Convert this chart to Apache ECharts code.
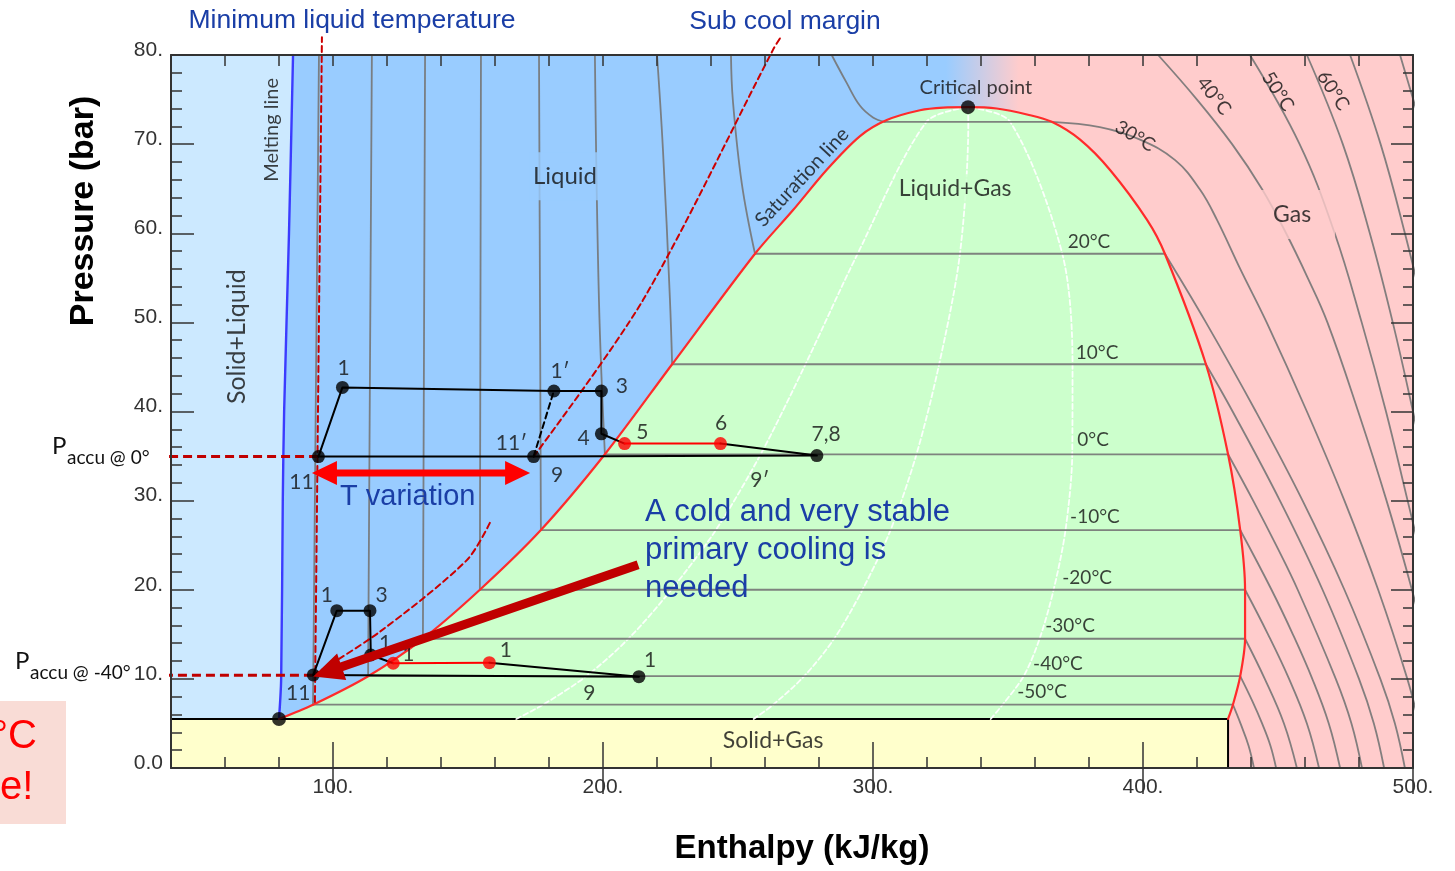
<!DOCTYPE html>
<html>
<head>
<meta charset="utf-8">
<script src="https://cdn.jsdelivr.net/npm/echarts@6/dist/echarts.min.js"></script>
<style>
  html, body { margin: 0; padding: 0; background: #fff; }
  #chart { width: 1455px; height: 871px; }
</style>
</head>
<body>
<div id="chart"></div>
<script>
// CO2 pressure–enthalpy diagram with two accumulator operating cycles.
// Enthalpy h in kJ/kg, pressure p in bar.

const xTickLabels = [100, 200, 300, 400, 500];
const yTickLabels = [0, 10, 20, 30, 40, 50, 60, 70, 80];

const triplePoint = [80, 5.5];
const criticalPoint = [335.2, 74.15];

// Solid/liquid boundary
const meltingLine = [[80, 5.5], [80.8, 10], [81.4, 30], [81.9, 40], [83.7, 60], [85.2, 80]];

// Saturation dome
const satLiquid = [[80, 5.5], [92.6, 7.1], [113, 10.3], [133.3, 14.5], [154.4, 20], [177, 26.7],
  [200.7, 35.2], [225.6, 45.3], [256.3, 57.7], [270.4, 62.6], [282.8, 67.1], [295.2, 70.9],
  [305.1, 72.7], [317.4, 73.8], [326, 74.1], [335.2, 74.15]];
const satVapor = [[335.2, 74.15], [345.8, 74.0], [357.4, 73.3], [366.2, 72.5], [376.7, 70.5],
  [387.8, 67.1], [401.5, 61.5], [408.1, 57.7], [423.3, 45.3], [431.5, 35.2], [436, 26.7],
  [437.8, 20], [437.8, 14.5], [436, 10.3], [433.3, 7.1], [431.5, 5.5]];

// Isotherms inside the dome (°C, saturation pressure, liquid / vapour enthalpy)
const satTemps = [-50, -40, -30, -20, -10, 0, 10, 20, 30];
const satPressure = [7.1, 10.3, 14.5, 20, 26.7, 35.2, 45.3, 57.7, 72.5];
const satHLiquid = [92.6, 113, 133.3, 154.4, 177, 200.7, 225.6, 256.3, 304.4];
const satHVapor = [433.3, 436, 437.8, 437.8, 436, 431.5, 423.3, 408.1, 366.2];

// Compressed-liquid isotherms (-50 … 30 °C)
const liquidIsotherms = [
  [[92.6, 7.1], [94.8, 80]],
  [[113, 10.3], [114.4, 80]],
  [[133.3, 14.5], [134.1, 80]],
  [[154.4, 20], [154.8, 80]],
  [[177, 26.7], [176.3, 80]],
  [[200.7, 35.2], [198.5, 52.5], [197, 80]],
  [[225.6, 45.3], [224.8, 52.5], [222.2, 69.4], [220, 80]],
  [[256.3, 57.7], [251.4, 65.6], [248.1, 74.9], [247.4, 80]],
  [[304.4, 72.5], [300, 73], [295.2, 74.3], [290.2, 76.9], [284.7, 80]]
];

// Superheated-vapour isotherms (-50 … 30 °C)
const vaporIsotherms = [
  [[433.3, 7.1], [436.1, 5], [439.1, 2.5], [441.1, 0]],
  [[436, 10.3], [440.5, 7.5], [444.1, 5], [447.2, 2.5], [449.3, 0]],
  [[437.8, 14.5], [445.1, 10], [452.2, 5], [457, 0]],
  [[437.8, 20], [446.3, 15], [454.1, 10], [460.7, 5], [465.2, 0]],
  [[436, 26.7], [447.6, 20], [455.5, 15], [462.7, 10], [468.8, 5], [473, 0]],
  [[431.5, 35.2], [440.8, 30], [449.3, 25], [457.3, 20], [471.4, 10], [477.2, 5], [481.1, 0]],
  [[423.3, 45.3], [433.2, 40], [450.7, 30], [466.5, 20], [480, 10], [485.5, 5], [489.3, 0]],
  [[408.1, 57.7], [423.3, 50], [441.8, 40], [459.1, 30], [474.6, 20], [487.9, 10], [493.3, 5], [497, 0]],
  [[366.2, 72.5], [384, 71.9], [398.9, 70.5], [411.9, 68.2], [421.1, 64.9], [427.4, 61.5],
    [436, 56], [445.8, 50], [460.7, 40], [474.6, 30], [487.1, 20], [497.9, 10], [502.2, 5]]
];

// Supercritical isotherms (40 … 80 °C)
const supercriticalIsotherms = [
  [[405.6, 80], [420, 75], [433, 70], [444, 65], [453, 60], [461, 55], [468.3, 50], [479.7, 40], [490.2, 30], [499.6, 20], [508, 10]],
  [[439.6, 80], [458, 70], [471, 60], [481, 50], [490, 40], [498, 30], [506, 20]],
  [[460.7, 80], [474, 70], [484, 60], [492.5, 50], [500, 40], [507, 30]],
  [[476.7, 80], [488, 70], [497, 60], [505, 50]],
  [[495.2, 80], [505, 70]]
];

// Constant-quality lines (x = 0.25, 0.5, 0.75)
const qualityPressure = [5.5, 7.1, 10.3, 14.5, 20, 26.7, 35.2, 45.3, 57.7, 72.5, 74.15];
const quality25 = [167.9, 177.8, 193.8, 209.4, 225.3, 241.8, 258.4, 275, 294.3, 319.8, 335.2];
const quality50 = [255.8, 263, 274.5, 285.6, 296.1, 306.5, 316.1, 324.5, 332.2, 335.3, 335.2];
const quality75 = [343.6, 348, 355.8, 361.7, 366.9, 371.3, 373.8, 373.9, 370.1, 350.8, 335.2];

// Cycle with accumulator at 0 °C: states 11, 1, 1′, 3, 4, 5, 6, 7/8, 11′
const upperCycle = [[94.6, 34.94], [103.5, 42.7], [181.8, 42.3], [199.4, 42.3], [199.4, 37.5],
  [208, 36.4], [243.5, 36.4], [279.2, 35.05], [174.3, 34.94]];
// Cycle with accumulator at -40 °C: states 11, 1, 3, 4, 5, 6, 7/8
const lowerCycle = [[92.7, 10.44], [101.4, 17.65], [113.7, 17.65], [114, 12.68], [122.3, 11.75],
  [157.9, 11.82], [213.3, 10.25]];

// Accumulator pressures and guide lines
const paccuHigh = 34.94;
const paccuLow = 10.4;
const minLiquidLine = [[93.3, 7.4], [95.9, 82.0]];
const subCoolUpper = [[174.3, 34.94], [214.8, 52.5], [263, 80.6], [265.6, 81.9]];
const subCoolLower = [[92.7, 10.44], [117.4, 15.3], [149.5, 23.3], [158.1, 27.5]];
const tVariation = [[92.2, 33.1], [173, 33.1]];
const coolingArrow = [[213, 22.8], [92.7, 10.26]];

// ---------------------------------------------------------------------------
const COL = {
  liquid: '#99ccff', solidLiquid: '#cce9ff', twoPhase: '#ccffcc', gas: '#ffcccc',
  solidGas: '#ffffcc', iso: '#767676', sat: '#ff2b2b', darkRed: '#c00000', note: '#1a3ea6'
};
const labelFont = 'Lato, "Noto Sans", sans-serif';
const tickFont = '"Liberation Sans", Arial, sans-serif';

const pts = (hs, ps) => hs.map((h, i) => [h, ps[i]]);

function fillSeries(points, styleFn, z) {
  return {
    type: 'custom', coordinateSystem: 'cartesian2d', silent: true, z,
    data: [[points[0][0], points[0][1]]],
    renderItem: (params, api) => ({
      type: 'polygon',
      shape: { points: points.map(pt => api.coord(pt)) },
      style: styleFn(api)
    })
  };
}

function lineSeries(data, lineStyle, z, extra) {
  return Object.assign({
    type: 'line', data, symbol: 'none', silent: true, z,
    lineStyle: Object.assign({ cap: 'round', join: 'round' }, lineStyle)
  }, extra || {});
}

function arrowSeries(from, to, o, z) {
  return {
    type: 'custom', coordinateSystem: 'cartesian2d', silent: true, z,
    data: [[from[0], from[1]]],
    renderItem: (params, api) => {
      const a = api.coord(from), b = api.coord(to);
      const dx = b[0] - a[0], dy = b[1] - a[1], L = Math.hypot(dx, dy);
      const ux = dx / L, uy = dy / L, nx = -uy, ny = ux;
      const P = (base, along, side) => [base[0] + ux * along + nx * side, base[1] + uy * along + ny * side];
      const hl = o.headLen, hw = o.headWidth / 2, sw = o.shaftWidth / 2;
      const shape = o.double
        ? [a, P(a, hl, hw), P(a, hl, sw), P(b, -hl, sw), P(b, -hl, hw), b, P(b, -hl, -hw), P(b, -hl, -sw), P(a, hl, -sw), P(a, hl, -hw)]
        : [P(a, 0, sw), P(b, -hl, sw), P(b, -hl, hw), b, P(b, -hl, -hw), P(b, -hl, -sw), P(a, 0, -sw)];
      return { type: 'polygon', shape: { points: shape }, style: { fill: o.color } };
    }
  };
}

function textSeries(items, z) {
  return {
    type: 'scatter', silent: true, z, symbolSize: 1,
    itemStyle: { color: 'rgba(0,0,0,0)' },
    data: items.map(it => ({
      value: it.at,
      label: {
        show: true, position: 'inside', formatter: it.text,
        fontFamily: labelFont, fontSize: it.size || 20, color: it.color || '#111',
        rotate: it.rotate || 0, align: 'center', verticalAlign: 'middle',
        backgroundColor: it.bg || 'transparent', padding: it.pad || 0
      }
    }))
  };
}

function pointSeries(data, color, size, z) {
  return { type: 'scatter', data, symbol: 'circle', symbolSize: size, silent: true, z,
    itemStyle: { color, borderWidth: 0 } };
}

// Region and isotherm annotations
const annotations = [
  { text: 'Solid+Liquid', at: [64.4, 48.4], rotate: 90, size: 25 },
  { text: 'Melting line', at: [77.4, 71.6], rotate: 90, size: 20 },
  { text: 'Liquid', at: [185.9, 66.4], size: 24, bg: COL.liquid, pad: [12, 3] },
  { text: 'Saturation line', at: [273.7, 66.3], rotate: 47, size: 20 },
  { text: 'Critical point', at: [338.1, 76.4], size: 20 },
  { text: 'Liquid+Gas', at: [330.4, 65.0], size: 23, bg: COL.twoPhase, pad: [3, 3] },
  { text: 'Gas', at: [455.2, 62.1], size: 23, bg: COL.gas, pad: [12, 24, 14, 24] },
  { text: 'Solid+Gas', at: [263, 3.1], size: 23 },
  { text: '20°C', at: [380, 59.0], size: 19 },
  { text: '10°C', at: [383, 46.6], size: 19 },
  { text: '0°C', at: [381.5, 36.8], size: 19 },
  { text: '-10°C', at: [382.2, 28.2], size: 19 },
  { text: '-20°C', at: [379.3, 21.3], size: 19 },
  { text: '-30°C', at: [373, 15.9], size: 19 },
  { text: '-40°C', at: [368.5, 11.7], size: 19 },
  { text: '-50°C', at: [362.6, 8.5], size: 19 },
  { text: '30°C', at: [397, 70.9], size: 19, rotate: -31 },
  { text: '40°C', at: [426.3, 75.4], size: 19, rotate: -52 },
  { text: '50°C', at: [450, 75.9], size: 19, rotate: -57 },
  { text: '60°C', at: [470.4, 76.0], size: 19, rotate: -57 }
];

// State labels of both cycles
const stateLabels = [
  { text: '1', at: [103.9, 44.9] }, { text: '1′', at: [184.1, 44.5] }, { text: '3', at: [207, 42.8] },
  { text: '4', at: [192.8, 37.0] }, { text: '5', at: [214.6, 37.7] }, { text: '6', at: [243.7, 38.7] },
  { text: '7,8', at: [282.6, 37.5] }, { text: '11′', at: [166.1, 36.4] }, { text: '9', at: [183, 32.8] },
  { text: '11', at: [88.3, 32.1] }, { text: '9′', at: [258.1, 32.3] },
  { text: '1', at: [97.7, 19.4] }, { text: '3', at: [118, 19.4] }, { text: '1', at: [119.3, 14.0] },
  { text: '1', at: [127.9, 12.8] }, { text: '1', at: [164, 13.2] }, { text: '1', at: [217.4, 12.1] },
  { text: '9', at: [194.9, 8.4] }, { text: '11', at: [87.1, 8.4] }
].map(s => Object.assign({ size: 21 }, s));

// ---------------------------------------------------------------------------
const satCurve = satLiquid.concat(satVapor.slice(1));
const domeLines = satTemps.map((t, i) => [[satHLiquid[i], satPressure[i]], [satHVapor[i], satPressure[i]]]);
const solidLiquidRegion = [[40, triplePoint[1]], [40, 80]].concat(meltingLine.slice().reverse());
const plotArea = [[40, 0], [40, 80], [500, 80], [500, 0]];

const isoStyle = { color: COL.iso, width: 1.8, opacity: 0.9 };
const qualityStyle = { color: 'rgba(255,255,255,0.92)', width: 1.8, type: [5, 3] };
const cycleStyle = { color: '#000', width: 2 };
const guideStyle = { color: '#cc0000', width: 2, type: [6, 4] };

const series = [];
// background: liquid (blue) fading into gas (pink) across the supercritical zone
series.push(fillSeries(plotArea, api => ({
  fill: new echarts.graphic.LinearGradient(api.coord([327, 0])[0], 0, api.coord([354, 0])[0], 0,
    [{ offset: 0, color: COL.liquid }, { offset: 1, color: COL.gas }], true)
}), 1));
series.push(fillSeries(solidLiquidRegion, () => ({ fill: COL.solidLiquid }), 2));
// two-phase dome
series.push(lineSeries(satCurve, { width: 0, opacity: 0 }, 3, { smooth: 0.3, areaStyle: { color: COL.twoPhase, opacity: 1 } }));
// solid + gas band
series.push(lineSeries([[40, triplePoint[1]], [satVapor[satVapor.length - 1][0], triplePoint[1]], [satVapor[satVapor.length - 1][0], 0]],
  { color: '#000', width: 2, cap: 'butt' }, 4, { areaStyle: { color: COL.solidGas, opacity: 1 } }));
// quality lines
[quality25, quality50, quality75].forEach(q => series.push(lineSeries(pts(q, qualityPressure), qualityStyle, 5, { smooth: 0.3 })));
// isotherms
domeLines.forEach(d => series.push(lineSeries(d, isoStyle, 6)));
liquidIsotherms.forEach(d => series.push(lineSeries(d, isoStyle, 6, { smooth: 0.4 })));
vaporIsotherms.forEach(d => series.push(lineSeries(d, isoStyle, 6, { smooth: 0.4 })));
supercriticalIsotherms.forEach(d => series.push(lineSeries(d, isoStyle, 6, { smooth: 0.4 })));
// melting and saturation lines
series.push(lineSeries(meltingLine, { color: '#3b3bff', width: 2.4 }, 7, { smooth: 0.3 }));
series.push(lineSeries(satCurve, { color: COL.sat, width: 2.2 }, 7, { smooth: 0.3 }));
// annotations on regions and isotherms
series.push(textSeries(annotations, 8));
// guide lines
series.push(lineSeries(minLiquidLine, guideStyle, 9, { clip: false }));
series.push(lineSeries(subCoolUpper, guideStyle, 9, { clip: false, smooth: 0.3 }));
series.push(lineSeries(subCoolLower, guideStyle, 9, { smooth: 0.3 }));
series.push(lineSeries([[34.1, paccuHigh], [upperCycle[0][0], paccuHigh]], { color: COL.darkRed, width: 3, type: [9, 5], cap: 'butt' }, 9, { clip: false }));
series.push(lineSeries([[32.2, paccuLow], [lowerCycle[0][0], paccuLow]], { color: COL.darkRed, width: 3, type: [9, 5], cap: 'butt' }, 9, { clip: false }));
// upper cycle
const U = upperCycle;
series.push(lineSeries([U[0], U[1], U[2], U[3], U[4], U[5]], cycleStyle, 10));
series.push(lineSeries([U[5], U[6]], { color: '#ff0000', width: 2 }, 10));
series.push(lineSeries([U[6], U[7], U[8], U[0]], cycleStyle, 10));
series.push(lineSeries([U[8], U[2]], { color: '#000', width: 2, type: [6, 4] }, 10));
series.push(pointSeries([U[0], U[1], U[2], U[3], U[4], U[7], U[8]], '#000', 13, 11));
series.push(pointSeries([U[5], U[6]], '#ff0000', 13, 11));
// lower cycle
const W = lowerCycle;
series.push(lineSeries([W[0], W[1], W[2], W[3], W[4]], cycleStyle, 10));
series.push(lineSeries([W[4], W[5]], { color: '#ff0000', width: 2 }, 10));
series.push(lineSeries([W[5], W[6], W[0]], cycleStyle, 10));
series.push(pointSeries([W[0], W[1], W[2], W[3], W[6]], '#000', 13, 11));
series.push(pointSeries([W[4], W[5]], '#ff0000', 13, 11));
// critical and triple points
series.push(pointSeries([criticalPoint, triplePoint], '#000', 14, 11));
series.push(textSeries(stateLabels, 12));
// arrows
series.push(arrowSeries(tVariation[0], tVariation[1], { double: true, headLen: 25, headWidth: 24, shaftWidth: 7, color: '#ff0000' }, 13));
series.push(arrowSeries(coolingArrow[0], coolingArrow[1], { double: false, headLen: 30, headWidth: 28, shaftWidth: 9, color: COL.darkRed }, 14));

// ---------------------------------------------------------------------------
const tickLine = { color: '#333', width: 1.5 };
const frameLine = { color: '#333', width: 2 };
const xBase = { type: 'value', min: 40, max: 500, z: 30, splitLine: { show: false } };
const yBase = { type: 'value', min: 0, max: 80, z: 30, splitLine: { show: false } };

const option = {
  animation: false,
  backgroundColor: '#ffffff',
  grid: { left: 171, right: 42, top: 55, bottom: 103 },
  xAxis: [
    Object.assign({}, xBase, {
      position: 'bottom', interval: 20,
      axisLine: { show: true, onZero: false, lineStyle: frameLine },
      axisTick: { show: true, inside: true, length: 11, lineStyle: tickLine },
      axisLabel: {
        formatter: v => (xTickLabels.includes(v) ? v + '.' : ''),
        margin: 9, fontSize: 21, fontFamily: tickFont, color: '#333'
      }
    }),
    Object.assign({}, xBase, {
      position: 'bottom', axisLine: { show: false },
      axisTick: { show: true, inside: true, length: 26, customValues: xTickLabels, lineStyle: tickLine },
      axisLabel: { show: false }
    }),
    Object.assign({}, xBase, {
      position: 'top', interval: 20,
      axisLine: { show: true, onZero: false, lineStyle: frameLine },
      axisTick: { show: true, inside: true, length: 11, lineStyle: tickLine },
      axisLabel: { show: false }
    }),
    Object.assign({}, xBase, {
      position: 'top', axisLine: { show: false },
      axisTick: { show: true, inside: true, length: 26, customValues: xTickLabels, lineStyle: tickLine },
      axisLabel: { show: false }
    })
  ],
  yAxis: [
    Object.assign({}, yBase, {
      position: 'left', interval: 2,
      axisLine: { show: true, onZero: false, lineStyle: frameLine },
      axisTick: { show: true, inside: true, length: 11, lineStyle: tickLine },
      axisLabel: {
        formatter: v => (yTickLabels.includes(v) ? (v === 0 ? '0.0' : v + '.') : ''),
        margin: 8, fontSize: 21, fontFamily: tickFont, color: '#333',
        verticalAlign: 'bottom', lineHeight: 10
      }
    }),
    Object.assign({}, yBase, {
      position: 'left', interval: 10, axisLine: { show: false },
      axisTick: { show: true, inside: true, length: 23, lineStyle: tickLine },
      axisLabel: { show: false }
    }),
    Object.assign({}, yBase, {
      position: 'right', interval: 2,
      axisLine: { show: true, onZero: false, lineStyle: frameLine },
      axisTick: { show: true, inside: true, length: 10, lineStyle: tickLine },
      axisLabel: { show: false }
    }),
    Object.assign({}, yBase, {
      position: 'right', interval: 10, axisLine: { show: false },
      axisTick: { show: true, inside: true, length: 22, lineStyle: tickLine },
      axisLabel: { show: false }
    })
  ],
  series,
  graphic: [
    { type: 'rect', z: 100, shape: { x: 0, y: 701, width: 66, height: 123 }, style: { fill: '#f9dcd6' } },
    { type: 'text', z: 101, x: -8, y: 737, style: { text: '°C', font: '40px "Liberation Sans", Arial, sans-serif', fill: '#ff0000', align: 'left', verticalAlign: 'middle' } },
    { type: 'text', z: 101, x: 0, y: 788, style: { text: 'e!', font: '40px "Liberation Sans", Arial, sans-serif', fill: '#ff0000', align: 'left', verticalAlign: 'middle' } },
    { type: 'text', z: 101, x: 352, y: 21, style: { text: 'Minimum liquid temperature', font: '26.5px "Liberation Sans", Arial, sans-serif', fill: COL.note, align: 'center', verticalAlign: 'middle' } },
    { type: 'text', z: 101, x: 785, y: 22, style: { text: 'Sub cool margin', font: '26.5px "Liberation Sans", Arial, sans-serif', fill: COL.note, align: 'center', verticalAlign: 'middle' } },
    { type: 'text', z: 101, x: 340, y: 497, style: { text: 'T variation', font: '29px "Liberation Sans", Arial, sans-serif', fill: COL.note, align: 'left', verticalAlign: 'middle' } },
    { type: 'text', z: 101, x: 645, y: 493, style: { text: 'A cold and very stable\nprimary cooling is\nneeded', font: '31px "Liberation Sans", Arial, sans-serif', lineHeight: 38, fill: COL.note, align: 'left', verticalAlign: 'top' } },
    { type: 'text', z: 101, x: 52, y: 446, style: { text: 'P', font: '24px Lato, sans-serif', fill: '#111', align: 'left', verticalAlign: 'middle' } },
    { type: 'text', z: 101, x: 67, y: 458, style: { text: 'accu @ 0°', font: '19px Lato, sans-serif', fill: '#111', align: 'left', verticalAlign: 'middle' } },
    { type: 'text', z: 101, x: 15, y: 661, style: { text: 'P', font: '24px Lato, sans-serif', fill: '#111', align: 'left', verticalAlign: 'middle' } },
    { type: 'text', z: 101, x: 30, y: 673, style: { text: 'accu @ -40°', font: '19px Lato, sans-serif', fill: '#111', align: 'left', verticalAlign: 'middle' } },
    { type: 'text', z: 101, x: 84, y: 211, rotation: Math.PI / 2, style: { text: 'Pressure (bar)', font: 'bold 34px "Liberation Sans", Arial, sans-serif', fill: '#000', align: 'center', verticalAlign: 'middle' } },
    { type: 'text', z: 101, x: 802, y: 849, style: { text: 'Enthalpy (kJ/kg)', font: 'bold 33px "Liberation Sans", Arial, sans-serif', fill: '#000', align: 'center', verticalAlign: 'middle' } }
  ]
};

const chart = echarts.init(document.getElementById('chart'), null, { renderer: 'canvas' });
chart.setOption(option);
</script>
</body>
</html>
